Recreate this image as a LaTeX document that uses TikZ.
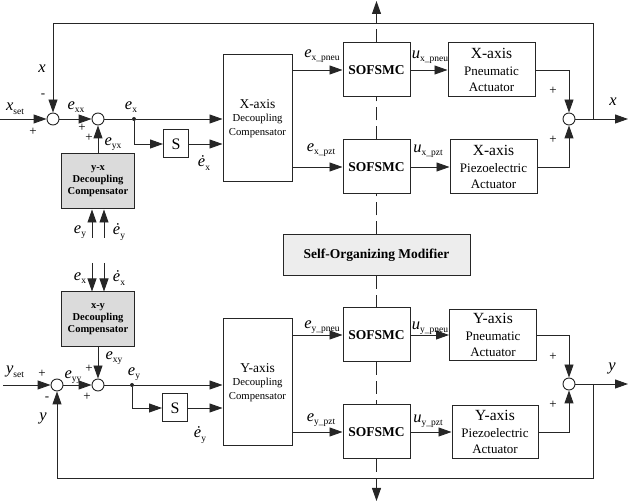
\documentclass[tikz,border=0pt]{standalone}
\usepackage{fontspec}
\setmainfont{Liberation Serif}
\usetikzlibrary{arrows.meta,calc}
\newcommand\sig[2]{{\fontsize{16.5}{16.5}\selectfont\itshape #1}\raisebox{-3.5pt}{\fontsize{9.5}{9.5}\selectfont #2}}
\newcommand\dsig[2]{{\fontsize{16.5}{16.5}\selectfont\itshape \.{#1}}\raisebox{-3.5pt}{\fontsize{9.5}{9.5}\selectfont #2}}
\begin{document}
\begin{tikzpicture}[x=1pt,y=-1pt,line width=0.9pt,color=black!85,
  every node/.style={text=black},
  >={Triangle[length=13pt,width=9pt]},
  box/.style={draw=black!85,line width=1pt,fill=white,inner sep=0pt,align=center},
  gbox/.style={box,fill=gray!28,font=\bfseries\fontsize{10.5}{12}\selectfont,minimum width=73pt,minimum height=55pt},
  dbox/.style={box,minimum width=69pt,minimum height=127pt,font=\fontsize{10.7}{13.5}\selectfont},
  sbox/.style={box,minimum width=67pt,minimum height=54pt,font=\bfseries\fontsize{13.5}{14}\selectfont},
  abox/.style={box,minimum width=87pt,minimum height=54pt,font=\fontsize{13}{16.5}\selectfont},
  dbx/.style={box,minimum width=25pt,minimum height=28pt,font=\fontsize{16}{16}\selectfont},
  sumnode/.style={circle,draw=black!85,line width=0.9pt,fill=white,minimum size=12pt,inner sep=0pt},
  dotnode/.style={circle,fill=black!85,minimum size=4pt,inner sep=0pt},
  lbl/.style={inner sep=0pt},
  pm/.style={inner sep=0pt,font=\fontsize{13}{13}\selectfont},
  dashline/.style={dash pattern=on 13pt off 6pt}]
\useasboundingbox (0,0) rectangle (630,502);
% ---------- coordinates
\coordinate (xin) at (0,119);
\coordinate (yin) at (3,385);
\coordinate (topy) at (0,23);
\coordinate (boty) at (0,478);
\coordinate (jx) at (593,119);
\coordinate (jy) at (593,384);
\coordinate (xout) at (628,119);
\coordinate (yout) at (628,384);
\coordinate (dtop) at (376.5,1);
\coordinate (dbot) at (376.5,501);
\coordinate (ya1) at (92,238);
\coordinate (ya2) at (104,238);
\coordinate (xa1) at (92,263);
\coordinate (xa2) at (104,263);
% ---------- nodes
\node[sumnode] (sx1) at (53,119) {};
\node[sumnode] (sx2) at (98,119) {};
\node[sumnode] (sy1) at (57,385) {};
\node[sumnode] (sy2) at (98,385) {};
\node[dotnode] (dotx) at (134,119) {};
\node[dotnode] (doty) at (132,385) {};
\node[dbx] (Sx) at (176,144) {S};
\node[dbx] (Sy) at (175,408) {S};
\node[gbox] (yx) at (98,181.5) {y-x\\Decoupling\\Compensator};
\node[gbox] (xy) at (98,319.5) {x-y\\Decoupling\\Compensator};
\node[dbox] (decX) at (257.5,118.5) {{\fontsize{13.5}{13.5}\selectfont X-axis}\\Decoupling\\Compensator};
\node[dbox] (decY) at (257.5,382.5) {{\fontsize{13.5}{13.5}\selectfont Y-axis}\\Decoupling\\Compensator};
\node[sbox] (sof1) at (376.5,70) {SOFSMC};
\node[sbox] (sof2) at (376.5,167) {SOFSMC};
\node[sbox] (sof3) at (376.5,335) {SOFSMC};
\node[sbox] (sof4) at (376.5,432) {SOFSMC};
\node[box,fill=gray!14,minimum width=187pt,minimum height=41pt,font=\bfseries\fontsize{13.5}{14}\selectfont] (som) at (376.5,255.5) {Self-Organizing Modifier};
\node[abox] (pxa) at (491.5,70) {{\fontsize{15.5}{16.5}\selectfont X-axis}\\Pneumatic\\Actuator};
\node[abox] (zxa) at (493.5,167) {{\fontsize{15.5}{16.5}\selectfont X-axis}\\Piezoelectric\\Actuator};
\node[abox,minimum height=51pt] (pya) at (493,335) {{\fontsize{15.5}{16.5}\selectfont Y-axis}\\Pneumatic\\Actuator};
\node[abox,minimum height=53pt,minimum width=86pt] (zya) at (495,432) {{\fontsize{15.5}{16.5}\selectfont Y-axis}\\Piezoelectric\\Actuator};
\node[sumnode] (ox) at (569,119) {};
\node[sumnode] (oy) at (569,384) {};
% ---------- dashed line
\draw[dashline] (som.north) -- (sof2.south);
\draw[dashline] (sof2.north) -- (sof1.south);
\draw[dashline,->] (sof1.north) -- (dtop);
\draw[dashline] (som.south) -- (sof3.north);
\draw[dashline] (sof3.south) -- (sof4.north);
\draw[dashline,->] (sof4.south) -- (dbot);
% ---------- X channel
\draw[->] (xin) -- (sx1.west);
\draw[->] (sx1.east) -- (sx2.west);
\draw (sx2.east) -- (dotx);
\draw[->] (dotx) -- (dotx -| decX.west);
\draw[->] (dotx) |- (Sx.west);
\draw[->] (Sx.east) -- (Sx.east -| decX.west);
\draw[->] (yx.north) -- (sx2.south);
\draw[->] (ya1) -- (ya1 |- yx.south);
\draw[->] (ya2) -- (ya2 |- yx.south);
\draw[->] (decX.east |- sof1.west) -- (sof1.west);
\draw[->] (decX.east |- sof2.west) -- (sof2.west);
\draw[->] (sof1.east) -- (sof1.east -| pxa.west);
\draw[->] (sof2.east) -- (sof2.east -| zxa.west);
\draw[->] (pxa.east) -| (ox.north);
\draw[->] (zxa.east) -| (ox.south);
\draw[->] (ox.east) -- (xout);
\draw[->] (jx) -- (jx |- topy) -| (sx1.north);
% ---------- Y channel
\draw[->] (yin) -- (sy1.west);
\draw[->] (sy1.east) -- (sy2.west);
\draw (sy2.east) -- (doty);
\draw[->] (doty) -- (doty -| decY.west);
\draw[->] (doty) |- (Sy.west);
\draw[->] (Sy.east) -- (Sy.east -| decY.west);
\draw[->] (xy.south) -- (sy2.north);
\draw[->] (xa1) -- (xa1 |- xy.north);
\draw[->] (xa2) -- (xa2 |- xy.north);
\draw[->] (decY.east |- sof3.west) -- (sof3.west);
\draw[->] (decY.east |- sof4.west) -- (sof4.west);
\draw[->] (sof3.east) -- (sof3.east -| pya.west);
\draw[->] (sof4.east) -- (sof4.east -| zya.west);
\draw[->] (pya.east) -| (oy.north);
\draw[->] (zya.east) -| (oy.south);
\draw[->] (oy.east) -- (yout);
\draw[->] (jy) -- (jy |- boty) -| (sy1.south);
% ---------- labels X
\node[lbl] (lxset) at (15,109) {\sig{x}{set}};
\node[pm] (p1) at (33,132) {+};
\node[pm] (m1) at (43,96) {-};
\node[lbl] (lxfb) at (42,69) {\fontsize{16.5}{16.5}\selectfont\itshape x};
\node[lbl] (lexx) at (76,107) {\sig{e}{xx}};
\node[pm] (p2) at (82,128) {+};
\node[pm] (p3) at (89,138) {+};
\node[lbl] (leyx) at (113,144) {\sig{e}{yx}};
\node[lbl] (lex) at (131,107) {\sig{e}{x}};
\node[lbl] (ldex) at (204,163) {\dsig{e}{x}};
\node[lbl] (ley1) at (80,232) {\sig{e}{y}};
\node[lbl] (ldey1) at (119,232) {\dsig{e}{y}};
\node[lbl] (lexp) at (322,56) {\sig{e}{x\_pneu}};
\node[lbl] (lexz) at (321,150) {\sig{e}{x\_pzt}};
\node[lbl] (luxp) at (430,57) {\sig{u}{x\_pneu}};
\node[lbl] (luxz) at (428,151) {\sig{u}{x\_pzt}};
\node[pm] (p4) at (553,91) {+};
\node[pm] (p5) at (553,140) {+};
\node[lbl] (lxo) at (613,102) {\fontsize{16.5}{16.5}\selectfont\itshape x};
% ---------- labels Y
\node[lbl] (lex2) at (80,278) {\sig{e}{x}};
\node[lbl] (ldex2) at (119,278) {\dsig{e}{x}};
\node[lbl] (lyset) at (15,372) {\sig{y}{set}};
\node[pm] (p6) at (42,374) {+};
\node[lbl] (leyy) at (73,377) {\sig{e}{yy}};
\node[pm] (m2) at (47,399) {-};
\node[lbl] (lyfb) at (43,418) {\fontsize{16.5}{16.5}\selectfont\itshape y};
\node[pm] (p7) at (89,369) {+};
\node[pm] (p8) at (87,397) {+};
\node[lbl] (lexy) at (114,358) {\sig{e}{xy}};
\node[lbl] (ley) at (134,374) {\sig{e}{y}};
\node[lbl] (ldey) at (200,435) {\dsig{e}{y}};
\node[lbl] (leyp) at (322,327) {\sig{e}{y\_pneu}};
\node[lbl] (leyz) at (321,420) {\sig{e}{y\_pzt}};
\node[lbl] (luyp) at (430,328) {\sig{u}{y\_pneu}};
\node[lbl] (luyz) at (428,421) {\sig{u}{y\_pzt}};
\node[pm] (p9) at (553,357) {+};
\node[pm] (p10) at (553,405) {+};
\node[lbl] (lyo) at (612,368) {\fontsize{16.5}{16.5}\selectfont\itshape y};
\end{tikzpicture}
\end{document}
